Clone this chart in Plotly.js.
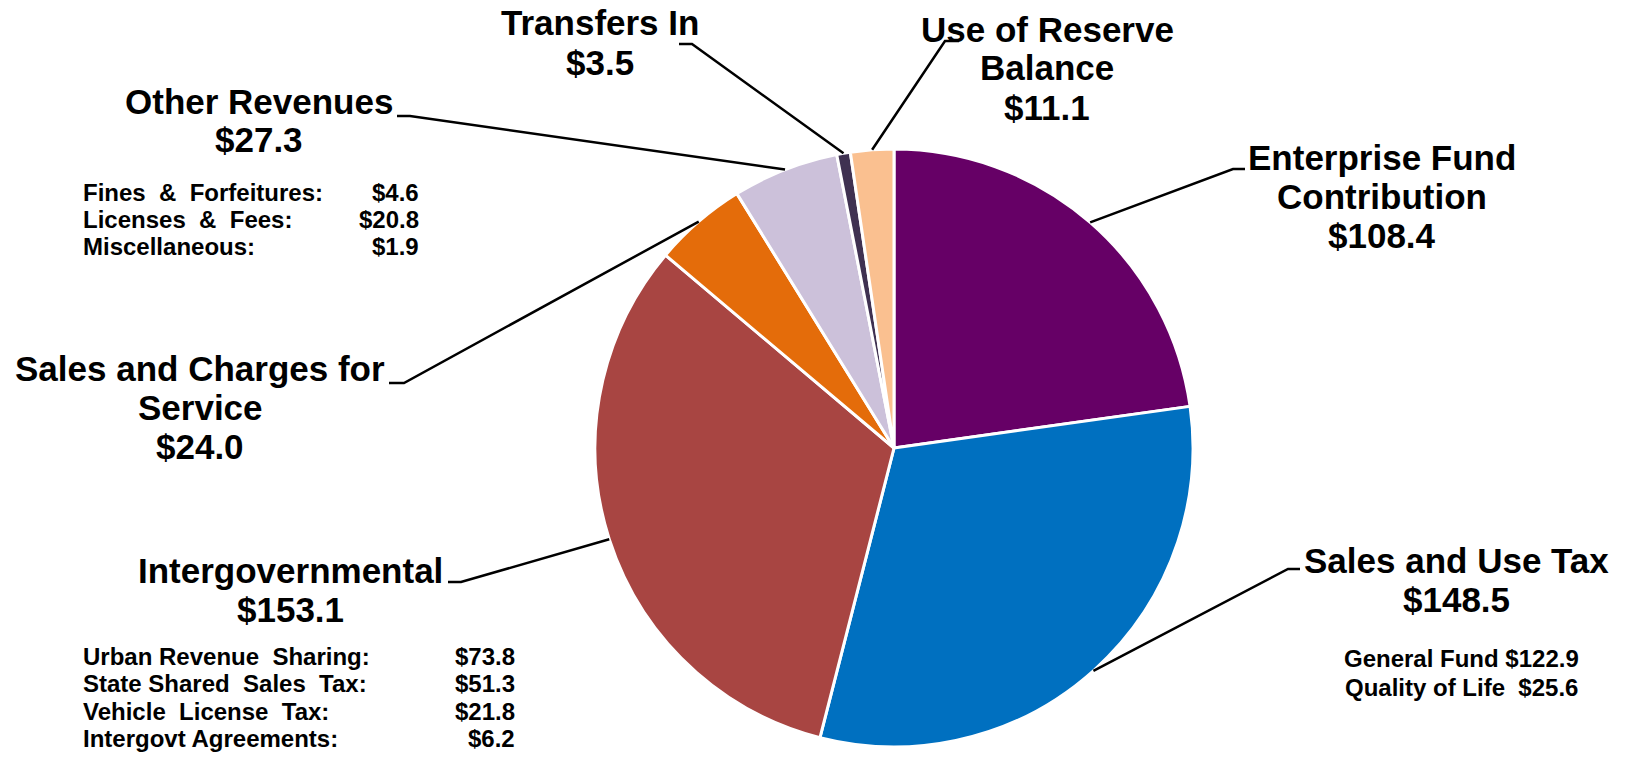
<!DOCTYPE html>
<html>
<head>
<meta charset="utf-8">
<script src="https://cdn.plot.ly/plotly-3.0.1.min.js"></script>
<style>html,body{margin:0;padding:0;background:#fff;}#chart{width:1625px;height:759px;}</style>
</head>
<body>
<div id="chart"></div>
<script>
// ---- data ----
const categories = ['Enterprise Fund Contribution','Sales and Use Tax','Intergovernmental','Sales and Charges for Service','Other Revenues','Transfers In','Use of Reserve Balance'];
const values = [108.4, 148.5, 153.1, 24.0, 27.3, 3.5, 11.1];
const labelLines = [['Enterprise Fund','Contribution'],['Sales and Use Tax'],['Intergovernmental'],['Sales and Charges for','Service'],['Other Revenues'],['Transfers In'],['Use of Reserve','Balance']];
const otherItems = ['Fines  &  Forfeitures:','Licenses  &  Fees:','Miscellaneous:'];
const otherValues = [4.6, 20.8, 1.9];
const intergovItems = ['Urban Revenue  Sharing:','State Shared  Sales  Tax:','Vehicle  License  Tax:','Intergovt Agreements:'];
const intergovValues = [73.8, 51.3, 21.8, 6.2];
const salesTaxItems = ['General Fund','Quality of Life '];
const salesTaxValues = [122.9, 25.6];

// ---- styles / layout ----
const colors = ['#660066','#0070C0','#A84542','#E46C0A','#CCC1DA','#3F3151','#FAC090'];
const W = 1625, H = 759;
const cx = 894, cy = 448, R = 299;
const FONT = 'Liberation Sans, Arial, sans-serif';
const px = x => x / W, py = y => 1 - y / H;

// label placement (pixels): center x, first-line center y, line gap, leader start (x,y), elbow x
const labelPos = [
  {x:1382, y:157, gap:39, lx:1245, ly:169, ex:1233},
  {x:1456, y:560, gap:39, lx:1300, ly:569, ex:1288},
  {x:290,  y:570, gap:39, lx:448,  ly:582, ex:461},
  {x:200,  y:368, gap:39, lx:389,  ly:383, ex:404},
  {x:259,  y:101, gap:38, lx:397,  ly:116, ex:410},
  {x:600,  y:23,  gap:39, lx:679,  ly:44,  ex:692},
  {x:1047, y:29,  gap:39, lx:959,  ly:41,  ex:945}
];

const total = values.reduce((a,b)=>a+b,0);
const annotations = [];
const shapes = [];
let cum = 0;
values.forEach((v,i)=>{
  const mid = (cum + v/2) / total;
  cum += v;
  const th = 2*Math.PI*mid;
  const exX = cx + R*Math.sin(th), exY = cy - R*Math.cos(th);
  const p = labelPos[i];
  const lines = labelLines[i].concat(['$' + v.toFixed(1)]);
  lines.forEach((t,k)=>{
    annotations.push({x:px(p.x), y:py(p.y + k*p.gap), xref:'paper', yref:'paper', text:t, showarrow:false,
      xanchor:'center', yanchor:'middle', font:{family:FONT, size:35, color:'#000', weight:'bold'}});
  });
  shapes.push({type:'path', xref:'paper', yref:'paper',
    path:`M ${px(p.lx)} ${py(p.ly)} L ${px(p.ex)} ${py(p.ly)} L ${px(exX)} ${py(exY)}`,
    line:{color:'#000', width:2.5}});
});

const SUB = 24;
function addList(items, vals, left, right, y0, gap){
  items.forEach((t,k)=>{
    annotations.push({x:px(left), y:py(y0+k*gap), xref:'paper', yref:'paper', text:t, showarrow:false,
      xanchor:'left', yanchor:'middle', font:{family:FONT, size:SUB, color:'#000', weight:'bold'}});
    annotations.push({x:px(right), y:py(y0+k*gap), xref:'paper', yref:'paper', text:'$'+vals[k].toFixed(1), showarrow:false,
      xanchor:'right', yanchor:'middle', font:{family:FONT, size:SUB, color:'#000', weight:'bold'}});
  });
}
addList(otherItems, otherValues, 81, 421, 193, 27);
addList(intergovItems, intergovValues, 81, 517, 656, 27.5);
salesTaxItems.forEach((t,k)=>{
  annotations.push({x:px(1461), y:py(658+k*29), xref:'paper', yref:'paper', text:t+' $'+salesTaxValues[k].toFixed(1), showarrow:false,
    xanchor:'center', yanchor:'middle', font:{family:FONT, size:SUB, color:'#000', weight:'bold'}});
});

const trace = {
  type:'pie', labels:categories, values:values, sort:false, direction:'clockwise', rotation:0,
  marker:{colors:colors, line:{color:'#ffffff', width:3}},
  textinfo:'none', hoverinfo:'label+value', showlegend:false,
  domain:{x:[px(cx-R), px(cx+R)], y:[py(cy+R), py(cy-R)]}
};

Plotly.newPlot('chart', [trace], {
  width:W, height:H, margin:{l:0,r:0,t:0,b:0}, paper_bgcolor:'#fff', plot_bgcolor:'#fff',
  showlegend:false, annotations:annotations, shapes:shapes
}, {displayModeBar:false, staticPlot:true});
</script>
</body>
</html>
